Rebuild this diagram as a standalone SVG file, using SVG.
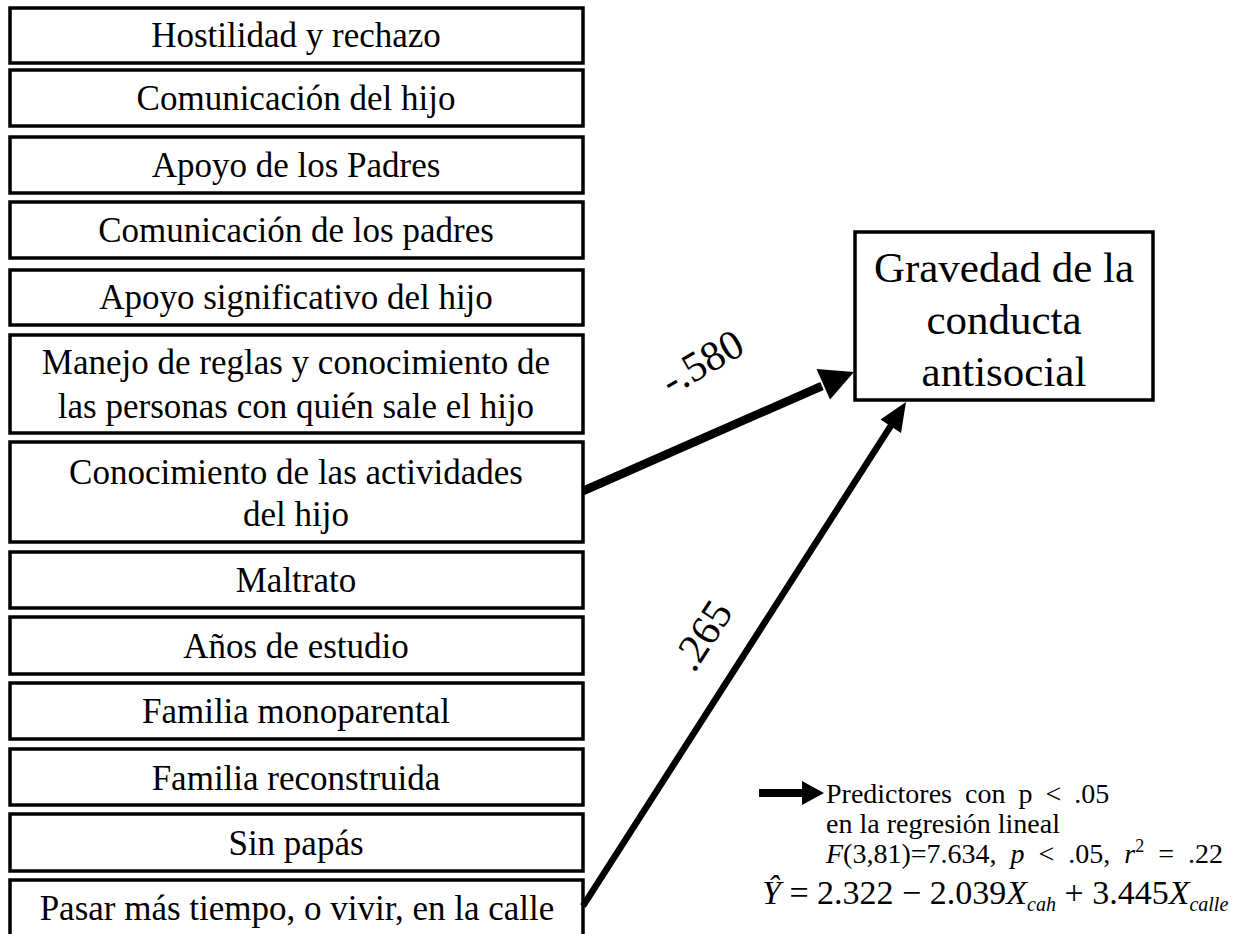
<svg xmlns="http://www.w3.org/2000/svg" width="1244" height="934" viewBox="0 0 1244 934">
<style>
.box{fill:#fff;stroke:#000;stroke-width:3.5}
.t{font-family:"Liberation Serif","Times New Roman",serif;font-size:35px;fill:#000;text-anchor:middle}
.big{font-family:"Liberation Serif","Times New Roman",serif;font-size:43px;fill:#000;text-anchor:middle}
.lbl{font-family:"Liberation Serif","Times New Roman",serif;font-size:42px;fill:#000;text-anchor:middle}
.leg{font-family:"Liberation Serif","Times New Roman",serif;font-size:28px;fill:#000}
.eq{font-family:"Liberation Serif","Times New Roman",serif;font-size:34px;fill:#000}
.it{font-style:italic}
</style>
<rect width="1244" height="934" fill="#fff"/>
<g id="n1"><rect class="box" x="10" y="8" width="573" height="55"/><text class="t" x="296" y="47">Hostilidad y rechazo</text></g>
<g id="n2"><rect class="box" x="10" y="70" width="573" height="56"/><text class="t" x="296" y="110">Comunicación del hijo</text></g>
<g id="n3"><rect class="box" x="10" y="137" width="573" height="56"/><text class="t" x="296" y="177">Apoyo de los Padres</text></g>
<g id="n4"><rect class="box" x="10" y="202" width="573" height="56"/><text class="t" x="296" y="242">Comunicación de los padres</text></g>
<g id="n5"><rect class="box" x="10" y="270" width="573" height="55"/><text class="t" x="296" y="309">Apoyo significativo del hijo</text></g>
<g id="n6"><rect class="box" x="10" y="335" width="573" height="98"/><text class="t" x="296" y="374">Manejo de reglas y conocimiento de</text><text class="t" x="296" y="418">las personas con quién sale el hijo</text></g>
<g id="n7"><rect class="box" x="10" y="442" width="573" height="100"/><text class="t" x="296" y="484">Conocimiento de las actividades</text><text class="t" x="296" y="526">del hijo</text></g>
<g id="n8"><rect class="box" x="10" y="552" width="573" height="56"/><text class="t" x="296" y="592">Maltrato</text></g>
<g id="n9"><rect class="box" x="10" y="617" width="573" height="57"/><text class="t" x="296" y="658">Años de estudio</text></g>
<g id="n10"><rect class="box" x="10" y="683" width="573" height="56"/><text class="t" x="296" y="723">Familia monoparental</text></g>
<g id="n11"><rect class="box" x="10" y="749" width="573" height="56"/><text class="t" x="296" y="790">Familia reconstruida</text></g>
<g id="n12"><rect class="box" x="10" y="814" width="573" height="57"/><text class="t" x="296" y="855">Sin papás</text></g>
<g id="n13"><rect class="box" x="10" y="880" width="573" height="70"/><text class="t" x="297" y="920">Pasar más tiempo, o vivir, en la calle</text></g>
<g id="target"><rect class="box" x="855" y="232" width="298" height="168"/><text class="big" x="1004" y="282">Gravedad de la</text><text class="big" x="1004" y="334">conducta</text><text class="big" x="1004" y="386">antisocial</text></g>
<g id="connectors">
<line x1="583" y1="491" x2="822" y2="386" stroke="#000" stroke-width="8.5"/>
<polygon points="854,372 830,399.5 816.5,369" fill="#000"/>
<line x1="583" y1="906" x2="891" y2="425.5" stroke="#000" stroke-width="6.5"/>
<polygon points="906,402 901,433 880.5,419.5" fill="#000"/>
<text class="lbl" transform="translate(709,374) rotate(-30)">-.580</text>
<text class="lbl" transform="translate(714,643) rotate(-57)">.265</text>
</g>
<g id="legend">
<line x1="759" y1="793" x2="804" y2="793" stroke="#000" stroke-width="8"/>
<polygon points="824,793 802,781 802,805" fill="#000"/>
<text class="leg" x="826" y="803" word-spacing="6">Predictores con p &lt; .05</text>
<text class="leg" x="826" y="833">en la regresión lineal</text>
<text class="leg" x="826" y="863" word-spacing="7"><tspan class="it">F</tspan>(3,81)=7.634, <tspan class="it">p</tspan> &lt; .05, <tspan class="it">r</tspan><tspan font-size="18" dy="-11">2</tspan><tspan dy="11"> = .22</tspan></text>
<text class="eq" x="762" y="904"><tspan class="it">Ŷ</tspan> = 2.322 − 2.039<tspan class="it">X</tspan><tspan class="it" font-size="20" dy="7">cah</tspan><tspan dy="-7"> + 3.445</tspan><tspan class="it">X</tspan><tspan class="it" font-size="20" dy="7">calle</tspan></text>
</g>
</svg>
